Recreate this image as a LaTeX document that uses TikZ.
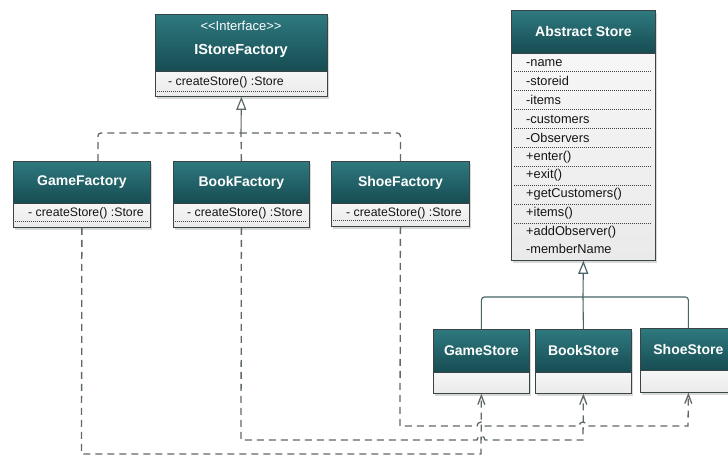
\documentclass[tikz,border=0pt]{standalone}
\usepackage{fontspec}
\setmainfont{Liberation Sans}
\usetikzlibrary{arrows.meta,shadows,calc}

\definecolor{hdtop}{RGB}{46,121,127}
\definecolor{hdbot}{RGB}{22,76,82}
\definecolor{edge}{RGB}{58,68,70}
\definecolor{bodytop}{RGB}{246,246,246}
\definecolor{bodybot}{RGB}{234,234,234}
\definecolor{wire}{RGB}{96,104,104}
\definecolor{stemc}{RGB}{72,100,102}
\definecolor{ink}{RGB}{20,20,20}

\tikzset{
  box/.style={draw=edge, line width=0.8pt, anchor=north west, inner sep=0pt,
    drop shadow={opacity=0.3, shadow xshift=1.5pt, shadow yshift=-2.2pt}},
  hdr/.style={box, top color=hdtop, bottom color=hdbot, text=white,
    font=\bfseries\fontsize{14}{16}\selectfont},
  bod/.style={box, top color=bodytop, bottom color=bodybot},
  member/.style={anchor=west, inner sep=0pt, text=ink, font=\fontsize{12.3}{14}\selectfont},
  attr/.style={member, font=\fontsize{12.8}{14}\selectfont},
  sep/.style={draw=edge, line width=0.6pt, dash pattern=on 1pt off 1pt},
  realize/.style={draw=wire, line width=1.3pt, dash pattern=on 7pt off 5pt},
  usage/.style={realize, -{Straight Barb[length=9pt,width=7pt]}},
  inherit/.style={draw=stemc, line width=1.1pt},
  gentip/.style={-{Triangle[open,length=13pt,width=10pt,line width=1.2pt]}},
}

\begin{document}
\begin{tikzpicture}[x=1pt,y=-1pt]
\clip (0,0) rectangle (728,456);
\fill[white] (0,0) rectangle (728,456);

% ---------- interface ----------
\node[hdr, minimum width=172pt, minimum height=57pt] (isfh) at (155,14) {};
\node[bod, minimum width=172pt, minimum height=25pt] (isb) at (155,71) {};
\node[text=white, inner sep=0pt, font=\fontsize{13}{15}\selectfont] (isst) at (241,26)
  {<\kern0pt<Interface>\kern0pt>};
\node[text=white, inner sep=0pt, font=\bfseries\fontsize{14.5}{16}\selectfont] (isname) at (241,51) {IStoreFactory};
\node[member] (ism) at (168,82) {- createStore() :Store};
\draw[sep] (157,91) -- (325,91);

% ---------- factories ----------
\node[hdr, minimum width=137pt, minimum height=42pt] (gfh) at (13,161) {GameFactory};
\node[bod, minimum width=137pt, minimum height=24pt] (gfb) at (13,203) {};
\node[member] (gfm) at (28,213) {- createStore() :Store};
\draw[sep] (15,221) -- (148,221);

\node[hdr, minimum width=136pt, minimum height=42pt] (bfh) at (173,161) {BookFactory};
\node[bod, minimum width=136pt, minimum height=24pt] (bfb) at (173,203) {};
\node[member] (bfm) at (187,213) {- createStore() :Store};
\draw[sep] (175,221) -- (307,221);

\node[hdr, minimum width=138pt, minimum height=42pt] (sfh) at (331,161) {ShoeFactory};
\node[bod, minimum width=138pt, minimum height=23pt] (sfb) at (331,203) {};
\node[member] (sfm) at (346,213) {- createStore() :Store};
\draw[sep] (333,220) -- (467,220);

% ---------- abstract store ----------
\node[hdr, minimum width=144pt, minimum height=43pt] (ash) at (511,10) {Abstract Store};
\node[bod, minimum width=144pt, minimum height=207pt] (asb) at (511,53) {};
\node[attr] (a1) at (526,62.7) {-name};
\node[attr] (a2) at (526,81) {-storeid};
\node[attr] (a3) at (526,100) {-items};
\node[attr] (a4) at (526,119) {-customers};
\node[attr] (a5) at (526,137.7) {-Observers};
\node[attr] (a6) at (526,156.7) {+enter()};
\node[attr] (a7) at (526,175.5) {+exit()};
\node[attr] (a8) at (526,194.3) {+getCustomers()};
\node[attr] (a9) at (526,213.3) {+items()};
\node[attr] (a10) at (526,232.3) {+addObserver()};
\node[attr] (a11) at (526,248.8) {-memberName};
\foreach \yy in {71,90,109,128,147,166,185,204,223}
  \draw[sep] (514,\yy) -- (652,\yy);

% ---------- concrete stores ----------
\node[hdr, minimum width=96pt, minimum height=43pt] (gsh) at (433,329) {GameStore};
\node[bod, minimum width=96pt, minimum height=21pt] (gsb) at (433,372) {};
\node[hdr, minimum width=96pt, minimum height=43pt] (bsh) at (535,329) {BookStore};
\node[bod, minimum width=96pt, minimum height=21pt] (bsb) at (535,372) {};
\node[hdr, minimum width=96pt, minimum height=42pt] (ssh) at (640,328) {ShoeStore};
\node[bod, minimum width=96pt, minimum height=22pt] (ssb) at (640,370) {};

% ---------- generalisation: stores -> Abstract Store ----------
\coordinate (jr) at (583,297);
\draw[inherit, gentip] (jr) -- (asb.south);
\draw[inherit, rounded corners=3pt] (gsh.north) |- (jr) -| (ssh.north);
\draw[inherit] (bsh.north) -- (jr);

% ---------- realisation: factories -> IStoreFactory ----------
\coordinate (jl) at (241,133);
\draw[inherit, draw=wire, gentip] (jl) -- (isb.south);
\draw[realize, rounded corners=3pt] ([xshift=16pt]gfh.north) |- (jl);
\draw[realize] (bfh.north) -- (jl);
\draw[realize, rounded corners=3pt] (sfh.north) |- (jl);

% ---------- dependencies: factories create stores ----------
\draw[usage] (gfb.south) -- (81.5,454) -- (481,454) -- (gsb.south);
\draw[usage] (bfb.south) -- (241,440) -- (477,440)
  arc[start angle=180, end angle=360, radius=4] -- (583,440) -- (bsb.south);
\draw[usage] (sfb.south) -- (400,426) -- (477,426)
  arc[start angle=180, end angle=360, radius=4] -- (579,426)
  arc[start angle=180, end angle=360, radius=4] -- (688,426) -- (ssb.south);
\end{tikzpicture}
\end{document}
